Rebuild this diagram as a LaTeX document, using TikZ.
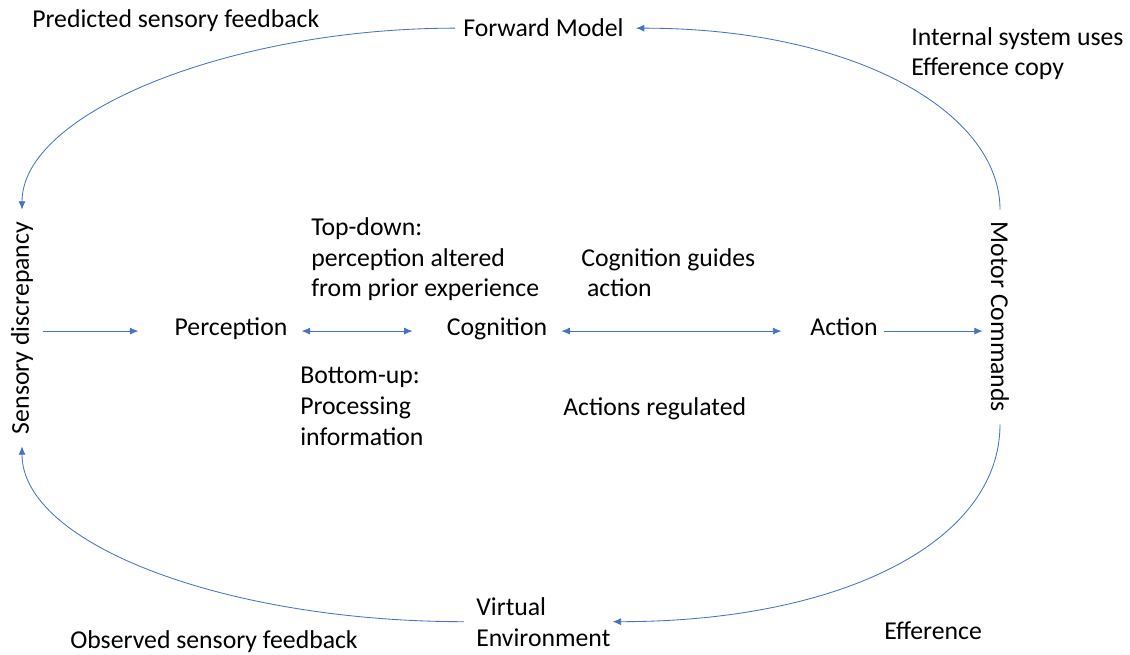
\documentclass[tikz,border=0pt]{standalone}
\usepackage{fontspec}
\setmainfont{Carlito}
\usetikzlibrary{arrows.meta}
\definecolor{linkblue}{HTML}{4472C4}
\tikzset{>={Latex[length=6pt,width=5pt]}}
\tikzset{
  lbl/.style={inner sep=0pt, font=\fontsize{18.3}{22}\selectfont, align=left},
  midlbl/.style={lbl, text height=0.7em, text depth=0em},
  link/.style={draw=linkblue, line width=0.6pt, ->}
}

\begin{document}
\begin{tikzpicture}[x=0.025cm, y=-0.025cm]
    \useasboundingbox (0,0) rectangle (1130,655);
    % loop nodes
    \node[lbl, anchor=base west] (fm) at (463,37) {Forward Model};
    \node[lbl, rotate=90] (sd) at (22,328) {Sensory discrepancy};
    \node[lbl, rotate=-90] (mc) at (1000,317) {Motor Commands};
    \node[lbl, anchor=base west] (ve) at (476,646) {Virtual\\Environment};
    % middle row
    \node[midlbl, anchor=base] (perc) at (231,336) {Perception};
    \node[midlbl, anchor=base] (cog) at (497,336) {Cognition};
    \node[midlbl, anchor=base] (act) at (844,336) {Action};
    % notes (base = last line)
    \node[lbl, anchor=base west] (pred) at (32,28) {Predicted sensory feedback};
    \node[lbl, anchor=base west] (intl) at (911,76) {Internal system uses\\Efference copy};
    \node[lbl, anchor=base west] (topd) at (311,297) {Top-down:\\perception altered\\from prior experience};
    \node[lbl, anchor=base west] (guid) at (581,297) {Cognition guides\\ \ action};
    \node[lbl, anchor=base west] (botu) at (300,445) {Bottom-up:\\Processing\\information};
    \node[lbl, anchor=base west] (regl) at (563,415) {Actions regulated};
    \node[lbl, anchor=base west] (obsv) at (70,648) {Observed sensory feedback};
    \node[lbl, anchor=base west] (effr) at (884,639) {Efference};

    \draw[link, shorten <=0.25cm, shorten >=0.9cm] (sd.south |- perc) -- (perc);
    \draw[link, <->, shorten <=0.35cm, shorten >=0.85cm] (perc) -- (cog);
    \draw[link, <->, shorten <=0.35cm, shorten >=0.72cm] (cog) -- (act);
    \draw[link, shorten <=0.15cm, shorten >=0.2cm] (act) -- (act -| mc.south);

    \draw[link, shorten <=0.2cm, shorten >=0.3cm] (fm.west) .. controls +(-230,0) and +(0,-110) .. (sd.east);
    \draw[link, shorten <=0.3cm, shorten >=0.3cm] (mc.west) .. controls +(0,-110) and +(230,0) .. (fm.east);
    \draw[link, shorten <=0.3cm, shorten >=0.05cm] (mc.east) .. controls +(0,130) and +(230,0) .. (ve.east);
    \draw[link, shorten <=0.3cm, shorten >=0.3cm] (ve.west) .. controls +(-250,0) and +(0,110) .. (sd.west);
\end{tikzpicture}
\end{document}
